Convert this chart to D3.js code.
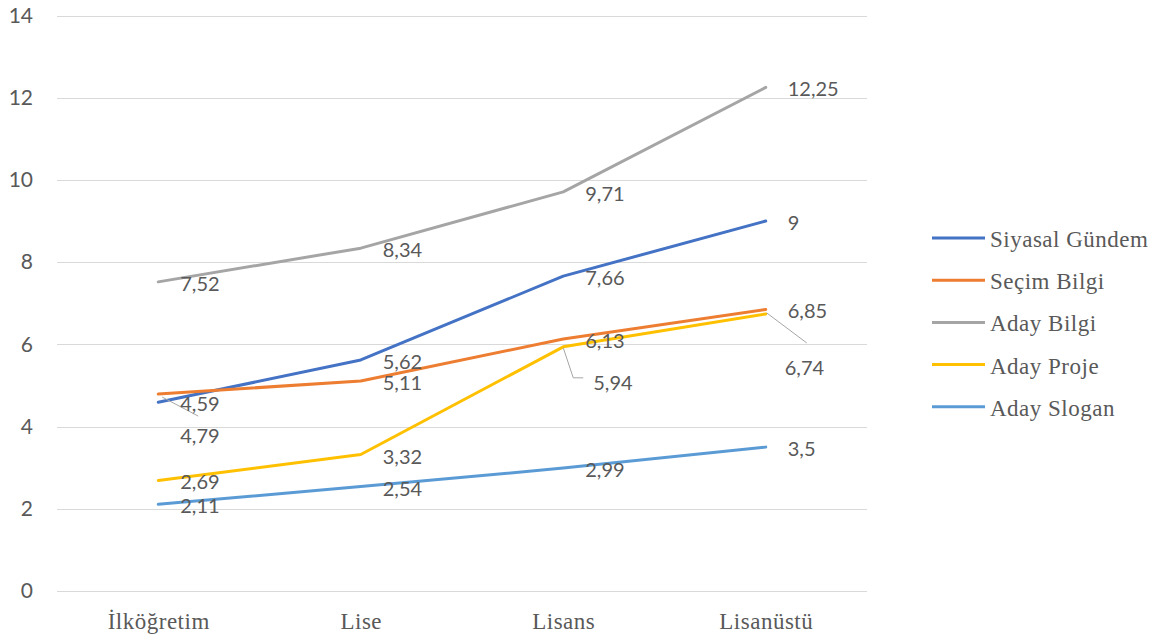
<!DOCTYPE html>
<html>
<head>
<meta charset="utf-8">
<script src="https://cdn.jsdelivr.net/npm/d3@7"></script>
<style>
  body { margin: 0; background: #fff; }
</style>
</head>
<body>
<div id="chart"></div>
<script>
var categories = ["İlköğretim", "Lise", "Lisans", "Lisanüstü"];
var seriesNames = ["Siyasal Gündem", "Seçim Bilgi", "Aday Bilgi", "Aday Proje", "Aday Slogan"];
var siyasalGundem = [4.59, 5.62, 7.66, 9];
var secimBilgi = [4.79, 5.11, 6.13, 6.85];
var adayBilgi = [7.52, 8.34, 9.71, 12.25];
var adayProje = [2.69, 3.32, 5.94, 6.74];
var adaySlogan = [2.11, 2.54, 2.99, 3.5];
var yTicks = [0, 2, 4, 6, 8, 10, 12, 14];

var colors = ["#4472C4", "#ED7D31", "#A5A5A5", "#FFC000", "#5B9BD5"];
var allSeries = [siyasalGundem, secimBilgi, adayBilgi, adayProje, adaySlogan];

var width = 1156, height = 640;
var plotLeft = 57, plotRight = 867, plotTop = 15.5, plotBottom = 591;

var svg = d3.select("#chart").append("svg")
    .attr("width", width)
    .attr("height", height);

var x = d3.scalePoint()
    .domain(categories)
    .range([plotLeft, plotRight])
    .padding(0.5);

var y = d3.scaleLinear()
    .domain([0, 14])
    .range([plotBottom, plotTop]);

// gridlines
svg.append("g").selectAll("line")
    .data(yTicks)
    .enter().append("line")
    .attr("x1", plotLeft)
    .attr("x2", plotRight)
    .attr("y1", function(d) { return Math.round(y(d)) + 0.5; })
    .attr("y2", function(d) { return Math.round(y(d)) + 0.5; })
    .style("stroke", "#D9D9D9")
    .style("stroke-width", 1);

// y axis labels
var yAxis = svg.append("g")
    .attr("transform", "translate(" + (plotLeft - 24) + ",0)")
    .call(d3.axisLeft(y).tickValues(yTicks).tickSize(0).tickPadding(0));
yAxis.select(".domain").remove();
yAxis.selectAll("text")
    .style("font-family", "Lato")
    .style("font-size", "21px")
    .style("fill", "#595959");

// x axis labels
var xAxis = svg.append("g")
    .attr("transform", "translate(0," + plotBottom + ")")
    .call(d3.axisBottom(x).tickSize(0).tickPadding(22));
xAxis.select(".domain").remove();
xAxis.selectAll("text")
    .style("font-family", "Liberation Serif")
    .style("font-size", "23px")
    .style("letter-spacing", "0.5px")
    .style("fill", "#595959");

var line = d3.line()
    .x(function(d, i) { return x(categories[i]); })
    .y(function(d) { return y(d); });

svg.append("g").selectAll("path")
    .data(allSeries)
    .enter().append("path")
    .attr("d", function(d) { return line(d); })
    .style("fill", "none")
    .style("stroke", function(d, i) { return colors[i]; })
    .style("stroke-width", 3)
    .style("stroke-linejoin", "round")
    .style("stroke-linecap", "round");

// labels moved off their point (series-category) -> offset, leader
var moved = {
    "1-0": { dx: 22, dy: 42, leader: [[4, 3], [40, 22]] },
    "3-2": { dx: 30, dy: 36, leader: [[0, 1], [10, 31], [20, 31]] },
    "3-3": { dx: 19, dy: 54, leader: [[1, -1], [41, 29]] }
};

var labelData = [];
allSeries.forEach(function(s, si) {
    s.forEach(function(v, ci) {
        labelData.push({ s: si, c: ci, v: v });
    });
});

var fmt = function(v) { return String(v).replace(".", ","); };

labelData.forEach(function(d) {
    var px = x(categories[d.c]), py = y(d.v);
    var m = moved[d.s + "-" + d.c];
    if (m && m.leader) {
        svg.append("path")
            .attr("d", d3.line()(m.leader.map(function(p) { return [px + p[0], py + p[1]]; })))
            .style("fill", "none")
            .style("stroke", "#A6A6A6")
            .style("stroke-width", 1);
    }
});

svg.append("g").selectAll("text")
    .data(labelData)
    .enter().append("text")
    .attr("x", function(d) {
        var m = moved[d.s + "-" + d.c];
        return x(categories[d.c]) + (m ? m.dx : 22);
    })
    .attr("y", function(d) {
        var m = moved[d.s + "-" + d.c];
        return y(d.v) + (m ? m.dy : 2);
    })
    .attr("dy", "0.35em")
    .style("font-family", "Lato")
    .style("font-size", "20px")
    .style("fill", "#595959")
    .text(function(d) { return fmt(d.v); });

// legend
var legend = svg.append("g").selectAll("g")
    .data(seriesNames)
    .enter().append("g")
    .attr("transform", function(d, i) { return "translate(932," + (238 + i * 42.2) + ")"; });
legend.append("line")
    .attr("x1", 0).attr("x2", 53)
    .attr("y1", 0).attr("y2", 0)
    .style("stroke", function(d, i) { return colors[i]; })
    .style("stroke-width", 3);
legend.append("text")
    .attr("x", 58)
    .attr("y", 9)
    .style("font-family", "Liberation Serif")
    .style("font-size", "23px")
    .style("letter-spacing", "0.5px")
    .style("fill", "#595959")
    .text(function(d) { return d; });
</script>
</body>
</html>
